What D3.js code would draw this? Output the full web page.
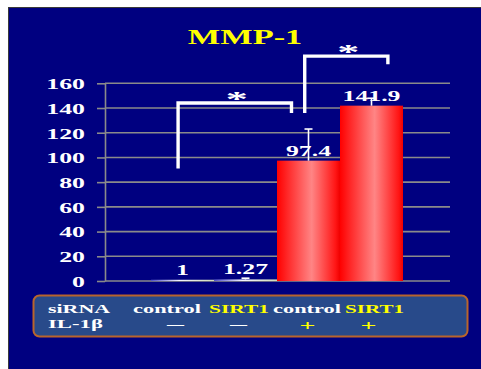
<!DOCTYPE html>
<html>
<head>
<meta charset="utf-8">
<script src="https://cdn.jsdelivr.net/npm/d3@7"></script>
<style>
  html, body { margin: 0; padding: 0; background: #ffffff; }
  svg { display: block; }
  text { font-family: "Liberation Serif", "DejaVu Serif", serif; font-weight: bold; }
</style>
</head>
<body>
<svg id="chart" width="481" height="369"></svg>
<script>
// ---- data ----
const categories = ["control / −", "SIRT1 / −", "control / +", "SIRT1 / +"];
const sirnaLabels = ["control", "SIRT1", "control", "SIRT1"];
const il1bLabels = ["—", "—", "+", "+"];
const values = [1, 1.27, 97.4, 141.9];
const errors = [0, 1, 25.6, 6];
const yTicks = [0, 20, 40, 60, 80, 100, 120, 140, 160];
const brackets = [
  { from: 0, to: 2, top: 144, leftEnd: 91, rightEnd: 136, label: "*" },
  { from: 2, to: 3, top: 182, leftEnd: 136, rightEnd: 175.5, label: "*" }
];
const title = "MMP-1";

// ---- layout ----
const svg = d3.select("#chart");
const W = 481, H = 369;
const plot = { left: 105, right: 450, top: 83.3, bottom: 281 };

svg.append("rect").attr("x", 8.5).attr("y", 7.5).attr("width", W).attr("height", H)
  .attr("fill", "#000080").attr("stroke", "#3a3a3a").attr("stroke-width", 1);

const defs = svg.append("defs");
const red = defs.append("linearGradient").attr("id", "redBar").attr("x1", "0").attr("x2", "1").attr("y1", "0").attr("y2", "0");
[[0, "#ff0000"], [0.55, "#ff8585"], [0.93, "#ff1515"], [1, "#f00000"]]
  .forEach(([o, c]) => red.append("stop").attr("offset", o).attr("stop-color", c));
const pale = defs.append("linearGradient").attr("id", "paleBar").attr("x1", "0").attr("x2", "1").attr("y1", "0").attr("y2", "0");
[[0, "#5050c8"], [0.45, "#f4f4ff"], [1, "#d0dcb8"]]
  .forEach(([o, c]) => pale.append("stop").attr("offset", o).attr("stop-color", c));

const y = d3.scaleLinear().domain([0, 160]).range([plot.bottom, plot.top]);
const x = d3.scaleBand().domain(categories).range([151, 403]).padding(0);
const bw = x.bandwidth();

// wide text helper: anchored at (px, py), stretched horizontally
function wideText(g, px, py, str, size, fill, anchor, sx) {
  return g.append("text")
    .attr("transform", `translate(${px},${py}) scale(${sx},1)`)
    .attr("text-anchor", anchor || "middle")
    .attr("font-size", size)
    .attr("fill", fill)
    .text(str);
}

// title
wideText(svg, 245, 44, title, 20, "#ffff00", "middle", 1.72);

// gridlines
svg.append("g").selectAll("line").data(yTicks).join("line")
  .attr("x1", plot.left).attr("x2", plot.right)
  .attr("y1", d => y(d)).attr("y2", d => y(d))
  .attr("stroke", "#8a8a8a").attr("stroke-width", 1.6);

// y axis
const yAxis = svg.append("g").attr("transform", `translate(${plot.left},0)`)
  .call(d3.axisLeft(y).tickValues(yTicks).tickSizeInner(8).tickSizeOuter(0).tickPadding(0));
yAxis.select(".domain").attr("stroke", "#8a8a8a").attr("stroke-width", 1.6);
yAxis.selectAll(".tick line").attr("stroke", "#8a8a8a").attr("stroke-width", 1.6);
yAxis.selectAll(".tick text")
  .attr("fill", "#ffffff").attr("font-size", 15).attr("font-family", null)
  .attr("x", null).attr("dy", "0.36em")
  .attr("transform", `translate(-20,0) scale(1.72,1)`);

// bars
svg.append("g").selectAll("rect").data(values).join("rect")
  .attr("x", (d, i) => x(categories[i]))
  .attr("width", bw)
  .attr("y", d => y(d))
  .attr("height", d => y(0) - y(d))
  .attr("fill", d => d > 10 ? "url(#redBar)" : "url(#paleBar)");

// error bars (upper half)
const eg = svg.append("g").attr("stroke", "#ffffff").attr("stroke-width", 1.6);
values.forEach((v, i) => {
  if (!errors[i]) return;
  const cx = x(categories[i]) + bw / 2;
  eg.append("line").attr("x1", cx).attr("x2", cx).attr("y1", y(v)).attr("y2", y(v + errors[i]));
  eg.append("line").attr("x1", cx - 4).attr("x2", cx + 4).attr("y1", y(v + errors[i])).attr("y2", y(v + errors[i]));
});

// value labels
values.forEach((v, i) => {
  wideText(svg, x(categories[i]) + bw / 2, y(v) - 5, String(v), 15, "#ffffff", "middle", 1.72);
});

// significance brackets
const anchors = [[0.43, 0.23], [0.44, 0.76]];
brackets.forEach((b, k) => {
  const xl = x(categories[b.from]) + anchors[k][0] * bw;
  const xr = x(categories[b.to]) + anchors[k][1] * bw;
  const path = d3.path();
  path.moveTo(xl, y(b.leftEnd));
  path.lineTo(xl, y(b.top));
  path.lineTo(xr, y(b.top));
  path.lineTo(xr, y(b.rightEnd));
  svg.append("path").attr("d", path.toString())
    .attr("fill", "none").attr("stroke", "#ffffff").attr("stroke-width", 3.4)
    .attr("stroke-linejoin", "miter");
  wideText(svg, (xl + xr) / 2 + 2, y(b.top) + 3, b.label, 22, "#ffffff", "middle", 2.0);
});

// legend table
const lg = svg.append("g");
lg.append("rect").attr("x", 33.5).attr("y", 295.5).attr("width", 434).attr("height", 41)
  .attr("rx", 6).attr("fill", "#284a8a").attr("stroke", "#b8642c").attr("stroke-width", 2);

function fitText(px, py, str, len, size, fill, anchor) {
  return lg.append("text").attr("x", px).attr("y", py)
    .attr("text-anchor", anchor || "start")
    .attr("font-size", size).attr("fill", fill)
    .attr("textLength", len).attr("lengthAdjust", "spacingAndGlyphs")
    .text(str);
}
fitText(48, 313, "siRNA", 62, 13, "#ffffff");
fitText(48, 328, "IL-1β", 55, 13, "#ffffff");

// siRNA row: left edges relative to each band
const rowStart = [-18, -5, -4, 5];
const rowWidth = [68, 60, 68, 59];
sirnaLabels.forEach((s, i) => {
  fitText(x(categories[i]) + rowStart[i], 313, s, rowWidth[i], 12.5,
    s === "SIRT1" ? "#ffff00" : "#ffffff", "start");
});
// IL-1β row: centred near each band
const nudges2 = [-7, -7, -1, -3];
il1bLabels.forEach((s, i) => {
  const cx = x(categories[i]) + bw / 2 + nudges2[i];
  const plus = s === "+";
  fitText(cx, plus ? 330 : 328, s, plus ? 16 : 17, plus ? 14 : 13, plus ? "#ffff00" : "#ffffff", "middle");
});
</script>
</body>
</html>
